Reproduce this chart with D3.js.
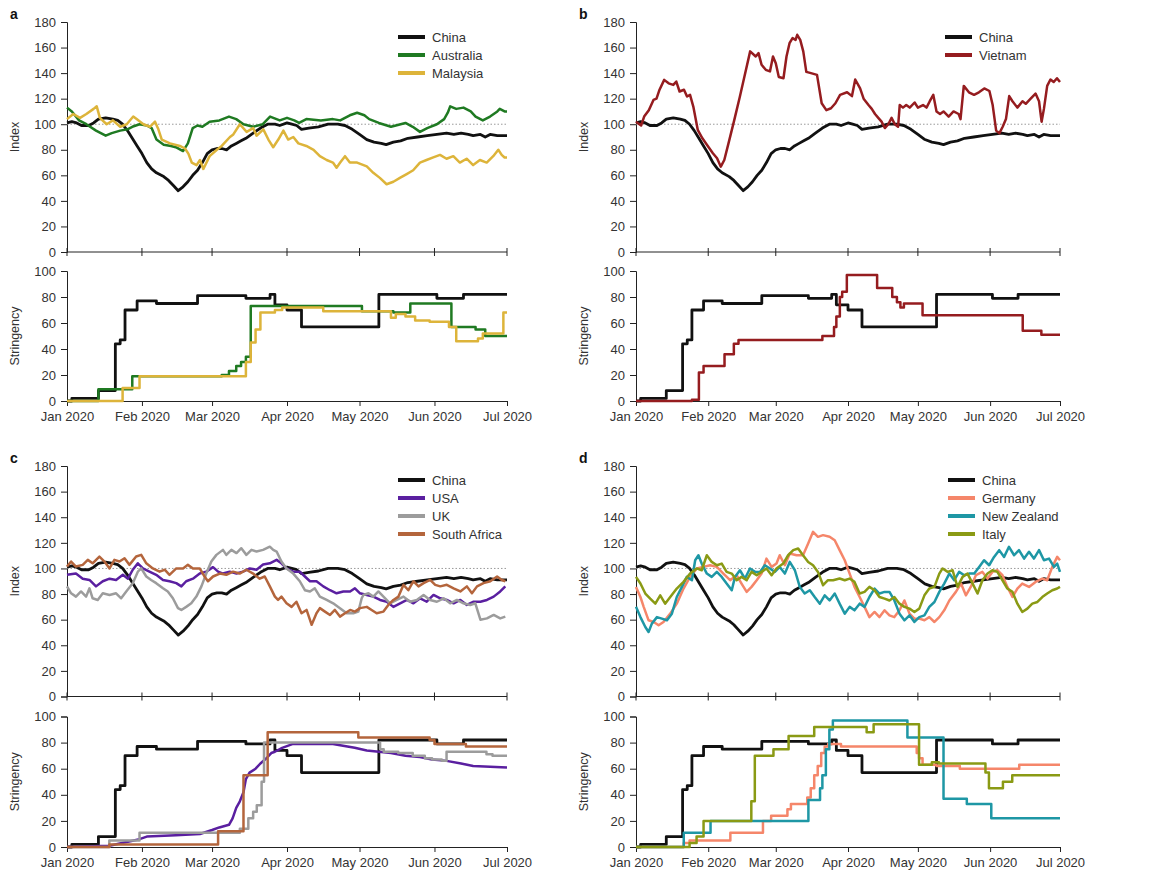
<!DOCTYPE html>
<html><head><meta charset="utf-8">
<script src="https://cdn.jsdelivr.net/npm/d3@7"></script>
<style>
body{margin:0;background:#fff}
svg{display:block}
text{font-family:"Liberation Sans",Arial,Helvetica,sans-serif}
</style>
</head><body>
<svg id="chart" width="1150" height="878"></svg>
<script>
// ---------- axis definitions ----------
const indexTicks = [0,20,40,60,80,100,120,140,160,180];
const stringencyTicks = [0,20,40,60,80,100];
const monthDays = [0,31,60,91,121,152,182];           // Jan 1 .. Jul 1 2020 (day offsets)
const monthLabels = ["Jan 2020","Feb 2020","Mar 2020","Apr 2020","May 2020","Jun 2020","Jul 2020"];

// ---------- index series: [day since 1 Jan 2020, value] ----------
const chinaIndex = [[0,101],[2,102],[4,101],[6,99],[9,99],[11,101],[13,104],[16,105],[19,104],[21,103],[23,100],[25,95],[27,89],[29,83],[31,77],[33,70],[35,65],[37,62],[40,59],[42,56],[44,52],[46,48],[48,51],[50,55],[52,60],[54,64],[56,70],[58,77],[60,80],[62,81],[64,81],[66,80],[68,83],[70,85],[72,87],[74,89],[77,93],[80,97],[83,100],[86,100],[88,99],[91,101],[93,100],[95,99],[97,96],[100,97],[104,98],[108,100],[112,100],[115,99],[118,96],[121,92],[124,88],[127,86],[130,85],[132,84],[135,86],[138,87],[141,89],[145,90],[149,91],[153,92],[157,93],[160,92],[163,93],[166,92],[168,91],[171,92],[173,90],[175,92],[178,91],[182,91]];
const australiaIndex = [[0,113],[2,110],[5,103],[8,100],[12,95],[15,92],[16,91],[18.5,93],[22,95],[25,96],[27,98],[30,100],[33,99],[35,97],[37,88],[40,84],[43,83],[45,82],[48,79],[50,85],[52,97],[54,99],[56,98],[59,102],[63,103],[67,106],[70,104],[73,100],[77,98],[81,100],[84,106],[88,103],[91,105],[94,103],[96,101],[99,104],[105,103],[110,104],[113,103],[117,107],[120,109],[123,107],[125,104],[129,101],[134,98],[138,100],[140,101],[143,98],[146,94],[149,97],[153,100],[156,104],[157.5,109],[158.5,114],[161,112],[164,113],[167,110],[169,106],[172,103],[175,106],[178,110],[179,112],[181,110],[182,110]];
const malaysiaIndex = [[0,104],[2.6,108],[5.4,105],[8,108],[11,112],[12.3,114],[13.6,105],[16.4,100],[19,103],[22,98],[24.7,100],[27.4,106],[28.8,104],[31.6,100],[34.3,98],[36.4,102],[37.8,96],[39.2,88],[42.6,85],[46.7,83],[48.8,81],[50.2,77],[51.6,70],[53.6,68],[55,72],[56.4,65],[59,75],[62,80],[64,83],[67.4,90],[68.8,92],[71.5,100],[74.3,94],[77,97],[78.4,91],[81.2,96],[83.3,88],[85.3,82],[87.4,88],[89.5,95],[91.5,88],[93.6,90],[95.7,85],[99,83],[102,80],[104.6,75],[107.4,72],[110,70],[111.5,66],[113,70],[115,75],[117,70],[120,70],[124,67],[126.7,62],[129.4,58],[132.2,53],[135,55],[137.7,58],[140.5,61],[143.2,64],[146,70],[148.7,72],[151.5,74],[154.3,76],[157,73],[159.8,75],[162.5,70],[165.3,73],[168,68],[170.8,72],[173.6,70],[176.3,75],[178.4,80],[179.8,76],[181,74],[182,74]];
const vietnamIndex = [[0,102],[2.2,99],[3.5,106],[5.5,111],[7.5,119],[8.8,120],[10.1,127],[12.1,134.7],[14,132],[16,130.8],[17.3,133.4],[18.7,125.6],[20.6,127],[21.9,121.7],[23.2,123],[24.6,113.8],[26.5,95.6],[28.5,89],[30.5,83.8],[33,77.3],[34.8,73.4],[36.4,66.8],[37.9,72],[39.7,85],[42.2,103.4],[44.6,121.7],[46.5,137],[49,157],[51.4,153],[52.6,155.6],[53.9,146.5],[55.7,142.6],[57.5,141.3],[58.8,153],[60,147.8],[61.3,137],[63.3,136],[64.6,153],[65.9,163.4],[67.2,167.4],[68.5,166],[69.2,170],[70.5,166],[71.8,157],[73.1,141],[75.1,140],[77.7,138.6],[79.7,116.4],[81.7,111],[83.7,112.5],[85.6,116.4],[87.6,123],[90.6,125],[92.7,122],[94.1,135],[96.2,128],[97.7,120],[99.8,115],[101.2,112],[102.6,108],[104,105],[105.4,102],[106.8,97],[108.3,100],[109.7,105],[111.1,100],[112.5,98],[113.2,115],[114.6,113],[116,115],[117.5,113],[119.6,117],[121,113],[123.2,115],[124.7,113],[126.1,118],[127.6,123],[129,110],[130.5,108],[132,110],[134.2,106],[136.3,110],[138.5,108],[139.3,104],[140.7,130],[142.9,125],[145.1,123],[147.2,125],[149.5,128],[151.7,126],[153.1,115],[154.6,95],[156,93],[157.4,98],[158.8,104],[160.2,122],[161.6,118],[163.7,113],[165.9,118],[167.3,116],[169.4,120],[171.5,124],[173,118],[174.1,102],[175.1,112],[176.5,130],[177.9,135],[179.3,133],[180.7,136],[182,133]];
const usaIndex = [[0,95],[3.7,96],[6.5,92],[9.3,91],[12,86],[14.8,90],[17.6,92],[20.3,91],[23.1,95],[25.2,92],[27.2,99],[29.3,104],[31.4,100],[34.1,97.5],[36.9,95],[39.7,91],[42.4,90],[45.2,88.5],[47.3,86],[49.3,90],[52.1,92],[54.9,96],[57.6,97.5],[60.4,101],[62.5,97.5],[64.5,96],[67.3,97.5],[70.1,96],[72.8,97.5],[75.6,100],[78.4,99],[81.1,103],[83.9,104],[86.7,106.7],[88.7,104],[90.8,100],[93.6,97.5],[96.3,97.5],[98.4,93.7],[100.5,90],[103.2,90],[106,86],[108.8,83],[111.5,80.6],[114.3,82],[117.1,82],[119.1,84.5],[121.2,80.6],[124,79.3],[126.7,78],[129.5,75.4],[132.3,74],[135,70],[137.8,72.8],[140.6,75.4],[143.3,72.8],[146.1,76.7],[148.8,74],[151.6,79.3],[154.4,76.7],[157.1,75.4],[159.9,72.8],[162.7,75.4],[165.4,71.5],[168.2,74],[171,74],[173.7,75.4],[176.5,78],[179.2,82],[181.3,86]];
const ukIndex = [[0,86],[1.7,80.6],[3.7,78],[5.8,82],[7.9,78],[9.3,84.5],[10.6,76.7],[12.7,75.4],[14.8,80.6],[17.6,79.3],[20.3,80.6],[22.4,76.7],[24.5,82],[27.2,88.5],[29.3,97.5],[30.7,100],[32.8,93.7],[34.8,91],[36.9,88.5],[39.7,84.5],[41.7,82],[43.8,76.7],[45.9,69],[47.3,67.6],[49.3,70],[51.4,72.8],[53.5,78],[55.6,86],[57.6,96],[59.7,105.4],[61.8,110.6],[64.5,114.5],[65.9,110.6],[68,114.5],[70.1,112],[72.1,115.8],[74.2,110.6],[76.3,114.5],[78.4,113.2],[81.1,114.5],[83.9,117],[85.3,114.5],[86.7,113.2],[88.7,105.4],[90.8,100],[93.6,96],[96.3,90],[98.4,83],[100.5,82],[102.5,84.5],[104.6,78],[107.4,75.4],[110.1,72.8],[112.9,69],[115.7,65],[118.4,65],[120.5,66.3],[121.9,76.7],[122.6,79.3],[124.7,80.6],[126.7,78],[128.8,82],[130.9,78],[133.6,72.8],[136.4,75.4],[139.2,78],[141.9,74],[144.7,75.4],[147.5,79.3],[150.2,75.4],[153,74],[155.8,76.7],[158.5,72.8],[161.3,75.4],[164,72.8],[166.8,71.5],[168.9,72.8],[171,60],[173.7,61],[176.5,63.7],[179.2,61],[181.3,62.4]];
const southAfricaIndex = [[0,101.5],[1.7,105.4],[3.7,101.5],[6.5,102.8],[8.6,106.7],[10.6,104],[13.4,109.3],[15.5,105.4],[17.6,100],[19.6,106.7],[21.7,105.4],[23.8,108],[25.8,102.8],[28.6,109.3],[30.7,110.6],[32.8,104],[35.5,100],[38.3,97.5],[40.4,99],[42.4,95],[45.2,100],[48,100],[50,102.8],[52.1,100],[54.9,100],[56.9,93.7],[58.3,90],[60.4,93.7],[63.2,96],[65.9,95],[68.7,97.5],[71.4,96],[74.2,99],[77,96],[79.7,92],[81.8,93.7],[83.9,86],[86,78],[87.3,75.4],[88.7,78],[90.8,72.8],[92.9,70],[94.9,74],[97,65],[99.1,67.6],[101.2,56],[103.2,65],[104.6,69],[106.7,66.3],[108.8,63.7],[110.8,67.6],[112.9,62.4],[115,65],[117.1,67.6],[119.1,66.3],[121.2,69],[124,70],[126,67.6],[128.1,65],[130.9,66.3],[132.9,71.5],[135,75.4],[137.1,78],[139.2,87.2],[141.2,83],[143.3,90],[145.4,86],[147.5,88.5],[150.2,91],[152.3,87.2],[154.4,86],[157.1,87.2],[159.9,84.5],[162.7,82],[165.4,86],[167.5,80.6],[169.6,86],[172.3,88.5],[175.1,90],[177.9,93.7],[179.9,91],[181.3,90]];
const germanyIndex = [[0,85.6],[1.9,77.7],[3.3,70],[5.4,59.5],[7.6,58.2],[9.7,55.6],[11.8,58.2],[14.7,64.7],[17.5,72.5],[20.4,84.3],[23.2,93.4],[26.1,100],[28.9,101.2],[31.8,102.5],[34.7,101.2],[37.5,96],[40.4,90.8],[43.2,94.7],[45.3,88.2],[47.5,81.7],[49.6,85.6],[51.8,90.8],[53.9,96],[56,107.7],[58.2,101.2],[60.3,103.8],[61.7,110.3],[63.9,102.5],[66,111.7],[68.9,110.3],[71.7,110.3],[73.9,119.5],[76,128.6],[78.1,124.7],[80.3,126],[83.1,124.7],[85.3,122],[87.4,114.3],[89.6,106.4],[91.7,96],[93.8,85.6],[96,77.7],[98.1,70],[100.2,62],[102.4,66],[104.5,62],[106.7,67.3],[108.8,63.4],[110.9,62],[113.1,67.3],[115.2,75],[117.4,64.7],[119.5,60.8],[121.6,60.8],[123.8,59.5],[125.9,62],[128.1,58.2],[130.2,62],[132.3,67.3],[134.5,75],[137.3,81.7],[139.5,88.2],[141.6,79],[143.7,85.6],[145.9,94.7],[148.7,97.3],[150.9,92.1],[153,97.3],[155.1,98.6],[157.3,94.7],[159.4,85.6],[161.6,77.7],[163.7,84.3],[165.8,88.2],[168.7,85.6],[171.5,89.5],[174.4,92.1],[176.5,90.8],[178.7,101.2],[180.8,109],[182,106.4]];
const newZealandIndex = [[0,70],[1.9,62],[4,54.3],[5.4,50.4],[6.8,56.9],[9,62],[11.1,60.8],[13.3,59.5],[15.4,64.7],[17.5,77.7],[19.7,85.6],[21.8,93.4],[24,90.8],[25.4,106.4],[26.8,110.3],[28.2,103.8],[30.4,96],[32.5,93.4],[34.7,97.3],[36.8,93.4],[38.9,88.2],[41.1,83],[42.5,93.4],[44.6,98.6],[46.8,92.1],[48.9,100],[51.1,97.3],[53.2,97.3],[55.3,102.5],[57.5,100],[59.6,97.3],[61.7,101.2],[63.9,96],[66,105.1],[68.2,98.6],[70.3,85.6],[72.4,80.4],[74.6,83],[76.7,77.7],[78.9,72.5],[81,79],[83.1,75],[85.3,80.4],[87.4,72.5],[89.6,64.7],[91.7,70],[93.8,67.3],[96,72.5],[98.1,70],[100.2,77.7],[102.4,84.3],[104.5,80.4],[106.7,81.7],[108.8,81.7],[110.9,75],[113.1,64.7],[115.2,59.5],[117.4,63.4],[119.5,58.2],[121.6,62],[123.8,63.4],[125.9,70],[128.1,73.8],[130.2,81.7],[132.3,88.2],[134.5,96],[136.6,90.8],[138.7,97.3],[140.9,94.7],[143,96],[145.2,96],[147.3,101.2],[149.4,106.4],[151.6,102.5],[153.7,109],[155.9,114.3],[158,109],[160.1,116.9],[162.3,110.3],[164.4,114.3],[166.6,107.7],[168.7,113],[170.8,107.7],[173,114.3],[175.1,106.4],[177.3,107.7],[179.4,101.2],[180.8,103.8],[182,97.3]];
const italyIndex = [[0,93.4],[1.9,88.2],[4,80.4],[6.1,76.4],[8.3,72.5],[10.4,79],[12.5,72.5],[14.7,77.7],[17.5,84.3],[20.4,89.5],[23.2,96],[26.1,100],[28.2,98.6],[30.4,110.3],[32.5,105.1],[34.7,102.5],[36.8,103.8],[38.9,97.3],[41.1,96],[43.2,90.8],[45.3,93.4],[47.5,90.8],[49.6,97.3],[51.8,94.7],[53.9,97.3],[56,100],[58.2,94.7],[60.3,100],[63.2,103.8],[65.3,110.3],[67.5,114.3],[69.6,115.6],[71.7,110.3],[73.9,105.1],[76,102.5],[78.1,97.3],[80.3,86.9],[82.4,90.8],[84.6,90.8],[87.4,92.1],[89.6,90.8],[91.7,92.1],[93.8,89.5],[96,80.4],[98.1,81.7],[100.2,85.6],[102.4,83],[104.5,77.7],[106.7,76.4],[108.8,75],[110.9,77.7],[113.1,72.5],[115.2,70],[117.4,68.6],[119.5,66],[121.6,68.6],[123.8,79],[125.9,84.3],[128.1,85.6],[130.2,96],[131.6,100],[133.8,97.3],[135.9,98.6],[138,85.6],[140.2,93.4],[142.3,96],[144.5,88.2],[146.6,80.4],[148.7,90.8],[150.9,96],[153,98.6],[155.1,97.3],[157.3,90.8],[159.4,84.3],[161.6,81.7],[163.7,72.5],[165.8,66],[168,68.6],[170.1,72.5],[172.3,73.8],[174.4,77.7],[176.5,80.4],[178.7,83],[180.8,84.3],[182,85.6]];

// ---------- stringency series: [day, value] (step changes) ----------
const chinaStringency = [[0,0],[2,2],[13,8],[20,44],[22,47],[24,70],[29,77],[37,75],[54,81],[74,79],[84,82],[86,74],[91,70],[97,57],[129,82],[153,79],[164,82],[182,82]];
const australiaStringency = [[0,0],[13,9],[27,19],[64,20],[67,23],[70,27],[72,30],[74,34],[76,73],[122,69],[135,68],[142,75],[159,57],[169,55],[173,50],[182,50]];
const malaysiaStringency = [[0,0],[23,10],[30,19],[74,30],[76,45],[78,55],[80,68],[86,70],[89,72],[106,69],[134,64],[136,67],[140,65],[144,62],[150,61],[158,57],[161,46],[170,48],[172,52],[180.5,68],[182,68]];
const vietnamStringency = [[0,0],[24,1],[27,22],[29,27],[38,36],[42,44],[44,47],[80,50],[85,57],[86,65],[87.5,80],[88.5,84],[90.5,97],[103.5,87],[110,80],[112,76],[113.5,72],[115,75],[123,66],[166,54],[174,51],[182,51]];
const usaStringency = [[0,0],[17.5,1],[30,6],[33,8],[45,9],[55,10],[60,13],[63,15],[67,17],[68.5,22],[70,30],[71.5,35],[73,42],[74,52],[75.5,57],[78,60],[80,64],[82.5,68],[84.5,72],[86,73],[89,76],[93.5,79],[110,79],[116,77],[119,76],[124,74],[129,73],[134,72],[140,70],[146,69],[151,67],[157,66],[163,64],[168,62],[182,61]];
const ukStringency = [[0,0],[17.5,5],[30,11],[71.5,14],[75,22],[77,27],[78.5,32],[80.5,50],[81.5,80],[129.5,75],[131,73],[137,72],[143,70],[148,68],[151,67],[155,66],[157,73],[173.5,71],[176,70],[182,70]];
const southAfricaStringency = [[0,0],[17.5,2],[62.5,12],[73,55],[83,88],[120.5,84],[150,82],[152,79],[165,77],[182,77]];
const germanyStringency = [[0,0],[20.5,3],[23,5],[40.5,11],[54.5,20],[58,24],[65,29],[66.5,33],[73.5,38],[75,45],[76.5,55],[78,62],[79.5,72],[81,77],[82.5,79],[88,77],[120.5,72],[121.5,68],[123,63],[129,62],[139,60],[164.5,63],[182,63]];
const newZealandStringency = [[0,0],[20.5,11],[32,20],[74,36],[79,45],[80,55],[81.5,75],[83,90],[84.5,97],[116.5,84],[132,37],[142,33],[152.5,22],[182,22]];
const italyStringency = [[0,0],[23,3],[26,8],[29,20],[49.5,35],[51,70],[59,75],[65.5,85],[76.5,92],[99,88],[102,94],[121.5,63],[127,65],[130,64],[150,57],[151.5,45],[157.5,50],[161.5,55],[182,55]];

const colors = {China:"#111111",Australia:"#1f7a22",Malaysia:"#ddb43a",Vietnam:"#951c1f",USA:"#5a1fa0",UK:"#9c9c9c","South Africa":"#b4653c",Germany:"#f5866a","New Zealand":"#1e97a5",Italy:"#8a9a14"};

const panels = [
  {label:"a", x0:67, x1:507, iTop:22, iBot:252, sTop:271, sBot:401, lx:398, ly:37,
   series:[["China",chinaIndex,chinaStringency],["Australia",australiaIndex,australiaStringency],["Malaysia",malaysiaIndex,malaysiaStringency]]},
  {label:"b", x0:636, x1:1060, iTop:22, iBot:252, sTop:271, sBot:401, lx:945, ly:37,
   series:[["China",chinaIndex,chinaStringency],["Vietnam",vietnamIndex,vietnamStringency]]},
  {label:"c", x0:67, x1:507, iTop:466, iBot:696.5, sTop:716.5, sBot:847, lx:398, ly:480,
   series:[["China",chinaIndex,chinaStringency],["USA",usaIndex,usaStringency],["UK",ukIndex,ukStringency],["South Africa",southAfricaIndex,southAfricaStringency]]},
  {label:"d", x0:636, x1:1060, iTop:466, iBot:696.5, sTop:716.5, sBot:847, lx:948, ly:480,
   series:[["China",chinaIndex,chinaStringency],["Germany",germanyIndex,germanyStringency],["New Zealand",newZealandIndex,newZealandStringency],["Italy",italyIndex,italyStringency]]}
];

const base = Date.UTC(2020,0,1);
const toDate = d => new Date(base + d*86400000);
const svg = d3.select("#chart");
const axisColor = "#222", textColor = "#333";

function styleAxis(g){
  g.select(".domain").attr("stroke",axisColor).attr("stroke-width",1);
  g.selectAll(".tick line").attr("stroke",axisColor);
  g.selectAll(".tick text").attr("fill",textColor).attr("font-size",13).attr("font-family",'"Liberation Sans",Arial,sans-serif');
}

panels.forEach(p => {
  const g = svg.append("g");
  const x = d3.scaleUtc().domain([toDate(0),toDate(182)]).range([p.x0,p.x1]);
  const yI = d3.scaleLinear().domain([0,180]).range([p.iBot,p.iTop]);
  const yS = d3.scaleLinear().domain([0,100]).range([p.sBot,p.sTop]);
  const months = monthDays.map(toDate);

  // ----- index panel -----
  g.append("g").attr("transform",`translate(${p.x0},0)`)
    .call(d3.axisLeft(yI).tickValues(indexTicks).tickSize(6).tickPadding(5)).call(styleAxis);
  g.append("line").attr("x1",p.x0).attr("x2",p.x1).attr("y1",yI(0)).attr("y2",yI(0)).attr("stroke",axisColor);
  g.selectAll(null).data(months).join("line")
    .attr("x1",d=>x(d)).attr("x2",d=>x(d)).attr("y1",yI(0)-4).attr("y2",yI(0)+4).attr("stroke",axisColor);
  g.append("line").attr("x1",p.x0).attr("x2",p.x1).attr("y1",yI(100)).attr("y2",yI(100))
    .attr("stroke","#999").attr("stroke-width",1).attr("stroke-dasharray","1.5,2");

  const lineI = d3.line().x(d=>x(toDate(d[0]))).y(d=>yI(d[1]));
  p.series.forEach(([name,idx]) => {
    g.append("path").datum(idx).attr("d",lineI).attr("fill","none")
      .attr("stroke",colors[name]).attr("stroke-width",name==="China"?2.8:2.5).attr("stroke-linejoin","round");
  });

  // ----- stringency panel -----
  g.append("g").attr("transform",`translate(${p.x0},0)`)
    .call(d3.axisLeft(yS).tickValues(stringencyTicks).tickSize(6).tickPadding(5)).call(styleAxis);
  g.append("g").attr("transform",`translate(0,${p.sBot})`)
    .call(d3.axisBottom(x).tickValues(months).tickSize(5).tickPadding(6).tickFormat((d,i)=>monthLabels[i])).call(styleAxis);

  p.series.forEach(([name,,str]) => {
    const curve = name==="USA" ? d3.curveLinear : d3.curveStepAfter;
    const lineS = d3.line().curve(curve).x(d=>x(toDate(d[0]))).y(d=>yS(d[1]));
    g.append("path").datum(str).attr("d",lineS).attr("fill","none")
      .attr("stroke",colors[name]).attr("stroke-width",name==="China"?2.8:2.5).attr("stroke-linejoin","round");
  });

  // ----- titles -----
  g.append("text").attr("x",p.x0-57).attr("y",p.iTop-3).attr("font-size",14).attr("font-weight","bold").attr("fill","#111").text(p.label);
  g.append("text").attr("transform",`translate(${p.x0-48},${(p.iTop+p.iBot)/2}) rotate(-90)`)
    .attr("text-anchor","middle").attr("font-size",12.5).attr("fill",textColor).text("Index");
  g.append("text").attr("transform",`translate(${p.x0-48},${(p.sTop+p.sBot)/2}) rotate(-90)`)
    .attr("text-anchor","middle").attr("font-size",12.5).attr("fill",textColor).text("Stringency");

  // ----- legend -----
  const lg = g.append("g");
  p.series.forEach(([name],i) => {
    const yy = p.ly + i*18;
    lg.append("line").attr("x1",p.lx).attr("x2",p.lx+27).attr("y1",yy).attr("y2",yy)
      .attr("stroke",colors[name]).attr("stroke-width",4);
    lg.append("text").attr("x",p.lx+34).attr("y",yy+4.5).attr("font-size",13).attr("fill",textColor).text(name);
  });
});
</script>
</body></html>
